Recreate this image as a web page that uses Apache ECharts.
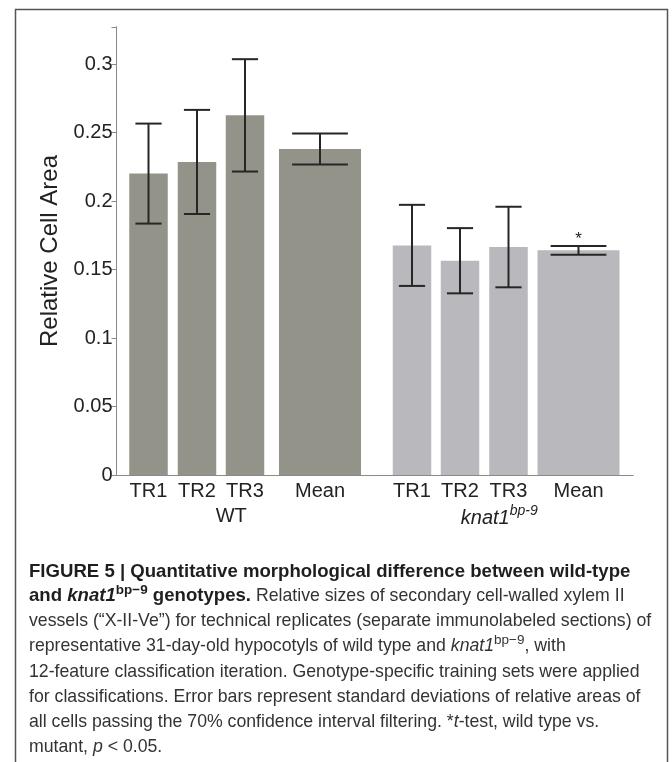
<!DOCTYPE html>
<html><head><meta charset="utf-8">
<script src="https://cdn.jsdelivr.net/npm/echarts@6/dist/echarts.min.js"></script>
<style>html,body{margin:0;padding:0;background:#fff}#c{width:672px;height:762px}</style>
</head><body><div id="c"></div>
<script>
// ---------- data ----------
const groups = ['WT', 'knat1bp-9'];
const members = ['TR1', 'TR2', 'TR3', 'Mean'];
const wtValues = [0.220, 0.2285, 0.2625, 0.238];
const wtErrors = [0.0365, 0.038, 0.041, 0.0113];
const knatValues = [0.1676, 0.1564, 0.1664, 0.164];
const knatErrors = [0.0296, 0.0238, 0.0294, 0.0032];
const knatSignificant = [false, false, false, true];
const yTicks = [0, 0.05, 0.1, 0.15, 0.2, 0.25, 0.3];
const yAxisName = 'Relative Cell Area';

// ---------- layout (not data) ----------
const F = '"Liberation Sans", Arial, Helvetica, sans-serif';
const GRID = {left: 116.5, top: 27, width: 516.5, height: 448};
const X_MAX = 516.5;
const centers = [[32, 80.5, 128.5, 203.5], [295.5, 343.5, 392, 462]];
const widths = [38.5, 38.5, 38.5, 82];
const capRatio = 0.68;
const colors = ['#93938a', '#b9b9bd'];

const values = [wtValues, knatValues];
const errors = [wtErrors, knatErrors];
const sig = [[false, false, false, false], knatSignificant];

const barData = [];
groups.forEach((g, gi) => {
  members.forEach((m, mi) => {
    barData.push([centers[gi][mi], values[gi][mi], errors[gi][mi], widths[mi], gi, mi, sig[gi][mi] ? 1 : 0]);
  });
});
const groupData = groups.map((g, gi) => {
  const c = centers[gi];
  return [(c[0] + c[3]) / 2, gi];
});

const chart = echarts.init(document.getElementById('c'), null, {renderer: 'canvas'});

function renderBar(params, api) {
  const x = api.value(0), y = api.value(1), e = api.value(2), w = api.value(3);
  const gi = api.value(4), mi = api.value(5), s = api.value(6);
  const base = api.coord([x, 0]);
  const top = api.coord([x, y]);
  const hi = api.coord([x, y + e]);
  const lo = api.coord([x, y - e]);
  const pw = api.size([w, 0])[0];
  const cap = pw * capRatio / 2;
  const lineStyle = {stroke: '#262626', lineWidth: 2};
  const children = [
    {type: 'rect', shape: {x: base[0] - pw / 2, y: top[1], width: pw, height: base[1] - top[1]},
     style: {fill: colors[gi]}},
    {type: 'line', shape: {x1: base[0], y1: hi[1], x2: base[0], y2: lo[1]}, style: lineStyle},
    {type: 'line', shape: {x1: base[0] - cap, y1: hi[1], x2: base[0] + cap, y2: hi[1]}, style: lineStyle},
    {type: 'line', shape: {x1: base[0] - cap, y1: lo[1], x2: base[0] + cap, y2: lo[1]}, style: lineStyle},
    {type: 'text', x: base[0], y: base[1] + 16,
     style: {text: members[mi], font: '20px ' + F, fill: '#222', align: 'center', verticalAlign: 'middle'}}
  ];
  if (s) {
    children.push({type: 'text', x: base[0], y: hi[1] - 7,
      style: {text: '*', font: '17px ' + F, fill: '#222', align: 'center', verticalAlign: 'middle'}});
  }
  return {type: 'group', children};
}

function renderGroup(params, api) {
  const x = api.value(0), gi = api.value(1);
  const p = api.coord([x, 0]);
  let style;
  if (gi === 1) {
    style = {text: '{i|knat1}{s|bp-9}', align: 'center', verticalAlign: 'middle',
      rich: {
        i: {fontSize: 20, fontStyle: 'italic', fontFamily: F, fill: '#222', lineHeight: 24, verticalAlign: 'bottom'},
        s: {fontSize: 14, fontStyle: 'italic', fontFamily: F, fill: '#222', lineHeight: 24, verticalAlign: 'top'}
      }};
  } else {
    style = {text: groups[gi], font: '20px ' + F, fill: '#222', align: 'center', verticalAlign: 'middle'};
  }
  return {type: 'text', x: p[0] + (gi === 1 ? 4 : -3), y: p[1] + 41, style};
}

// caption
const RS = 17.7, BS = 18.6;
const capRich = {
  b: {fontSize: BS, fontWeight: 'bold', fontFamily: F, fill: '#1e1e1e', lineHeight: 22, verticalAlign: 'bottom'},
  bi: {fontSize: BS, fontWeight: 'bold', fontStyle: 'italic', fontFamily: F, fill: '#1e1e1e', lineHeight: 22, verticalAlign: 'bottom'},
  bs: {fontSize: 13.5, fontWeight: 'bold', fontFamily: F, fill: '#1e1e1e', lineHeight: 22, verticalAlign: 'top'},
  r: {fontSize: RS, fontFamily: F, fill: '#333', lineHeight: 22, verticalAlign: 'bottom'},
  ri: {fontSize: RS, fontStyle: 'italic', fontFamily: F, fill: '#333', lineHeight: 22, verticalAlign: 'bottom'},
  rs: {fontSize: 13.5, fontFamily: F, fill: '#333', lineHeight: 22, verticalAlign: 'top'}
};
const captionLines = [
  '{b|FIGURE 5 | Quantitative morphological difference between wild-type}',
  '{b|and }{bi|knat1}{bs|bp\u22129}{b| genotypes.}{r| Relative sizes of secondary cell-walled xylem II}',
  '{r|vessels (\u201CX-II-Ve\u201D) for technical replicates (separate immunolabeled sections) of}',
  '{r|representative 31-day-old hypocotyls of wild type and }{ri|knat1}{rs|bp\u22129}{r|, with}',
  '{r|12-feature classification iteration. Genotype-specific training sets were applied}',
  '{r|for classifications. Error bars represent standard deviations of relative areas of}',
  '{r|all cells passing the 70% confidence interval filtering. *}{ri|t}{r|-test, wild type vs.}',
  '{r|mutant, }{ri|p}{r| < 0.05.}'
];
const captionY = [570, 594, 619, 644, 670, 695, 720, 745];
const captionGraphics = captionLines.map((t, i) => ({
  type: 'text', x: 29, y: captionY[i],
  style: {text: t, rich: capRich, align: 'left', verticalAlign: 'middle'}
}));

chart.setOption({
  animation: false,
  backgroundColor: '#fff',
  grid: {left: GRID.left, top: GRID.top, width: GRID.width, height: GRID.height},
  xAxis: [
    {type: 'value', min: 0, max: X_MAX, position: 'bottom',
     axisLine: {show: true, lineStyle: {color: '#8a8a8a', width: 1}},
     axisTick: {show: false}, axisLabel: {show: false}, splitLine: {show: false}},
    {type: 'value', min: 0, max: X_MAX, position: 'top',
     axisLine: {show: true, lineStyle: {color: '#8a8a8a', width: 1}},
     axisTick: {show: false}, axisLabel: {show: false}, splitLine: {show: false}}
  ],
  yAxis: [
    {type: 'value', min: 0, max: 0.327, interval: 0.05, position: 'left',
     name: yAxisName, nameLocation: 'middle', nameRotate: 90, nameGap: 48,
     nameTextStyle: {fontSize: 24, fontFamily: F, color: '#222'},
     axisLine: {show: true, lineStyle: {color: '#8a8a8a', width: 1}},
     axisTick: {show: true, inside: false, length: 3, lineStyle: {color: '#8a8a8a'}},
     axisLabel: {fontSize: 20, fontFamily: F, color: '#222', margin: 4, showMaxLabel: false,
       formatter: v => (yTicks.some(t => Math.abs(t - v) < 1e-9) ? String(+v.toFixed(2)) : '')},
     splitLine: {show: false}},
    {type: 'value', min: 0, max: 0.327, interval: 0.05, position: 'right',
     axisLine: {show: true, lineStyle: {color: '#8a8a8a', width: 1}},
     axisTick: {show: true, inside: true, length: 5, lineStyle: {color: '#8a8a8a'}},
     axisLabel: {show: false}, splitLine: {show: false}}
  ],
  series: [
    {type: 'custom', renderItem: renderBar, data: barData, xAxisIndex: 0, yAxisIndex: 0, clip: false, silent: true},
    {type: 'custom', renderItem: renderGroup, data: groupData, xAxisIndex: 0, yAxisIndex: 0, clip: false, silent: true}
  ],
  graphic: [
    {type: 'rect', left: 13, top: 7, shape: {width: 652, height: 780},
     style: {fill: 'none', stroke: '#555', lineWidth: 1.5}, silent: true}
  ].concat(captionGraphics)
});
</script></body></html>
